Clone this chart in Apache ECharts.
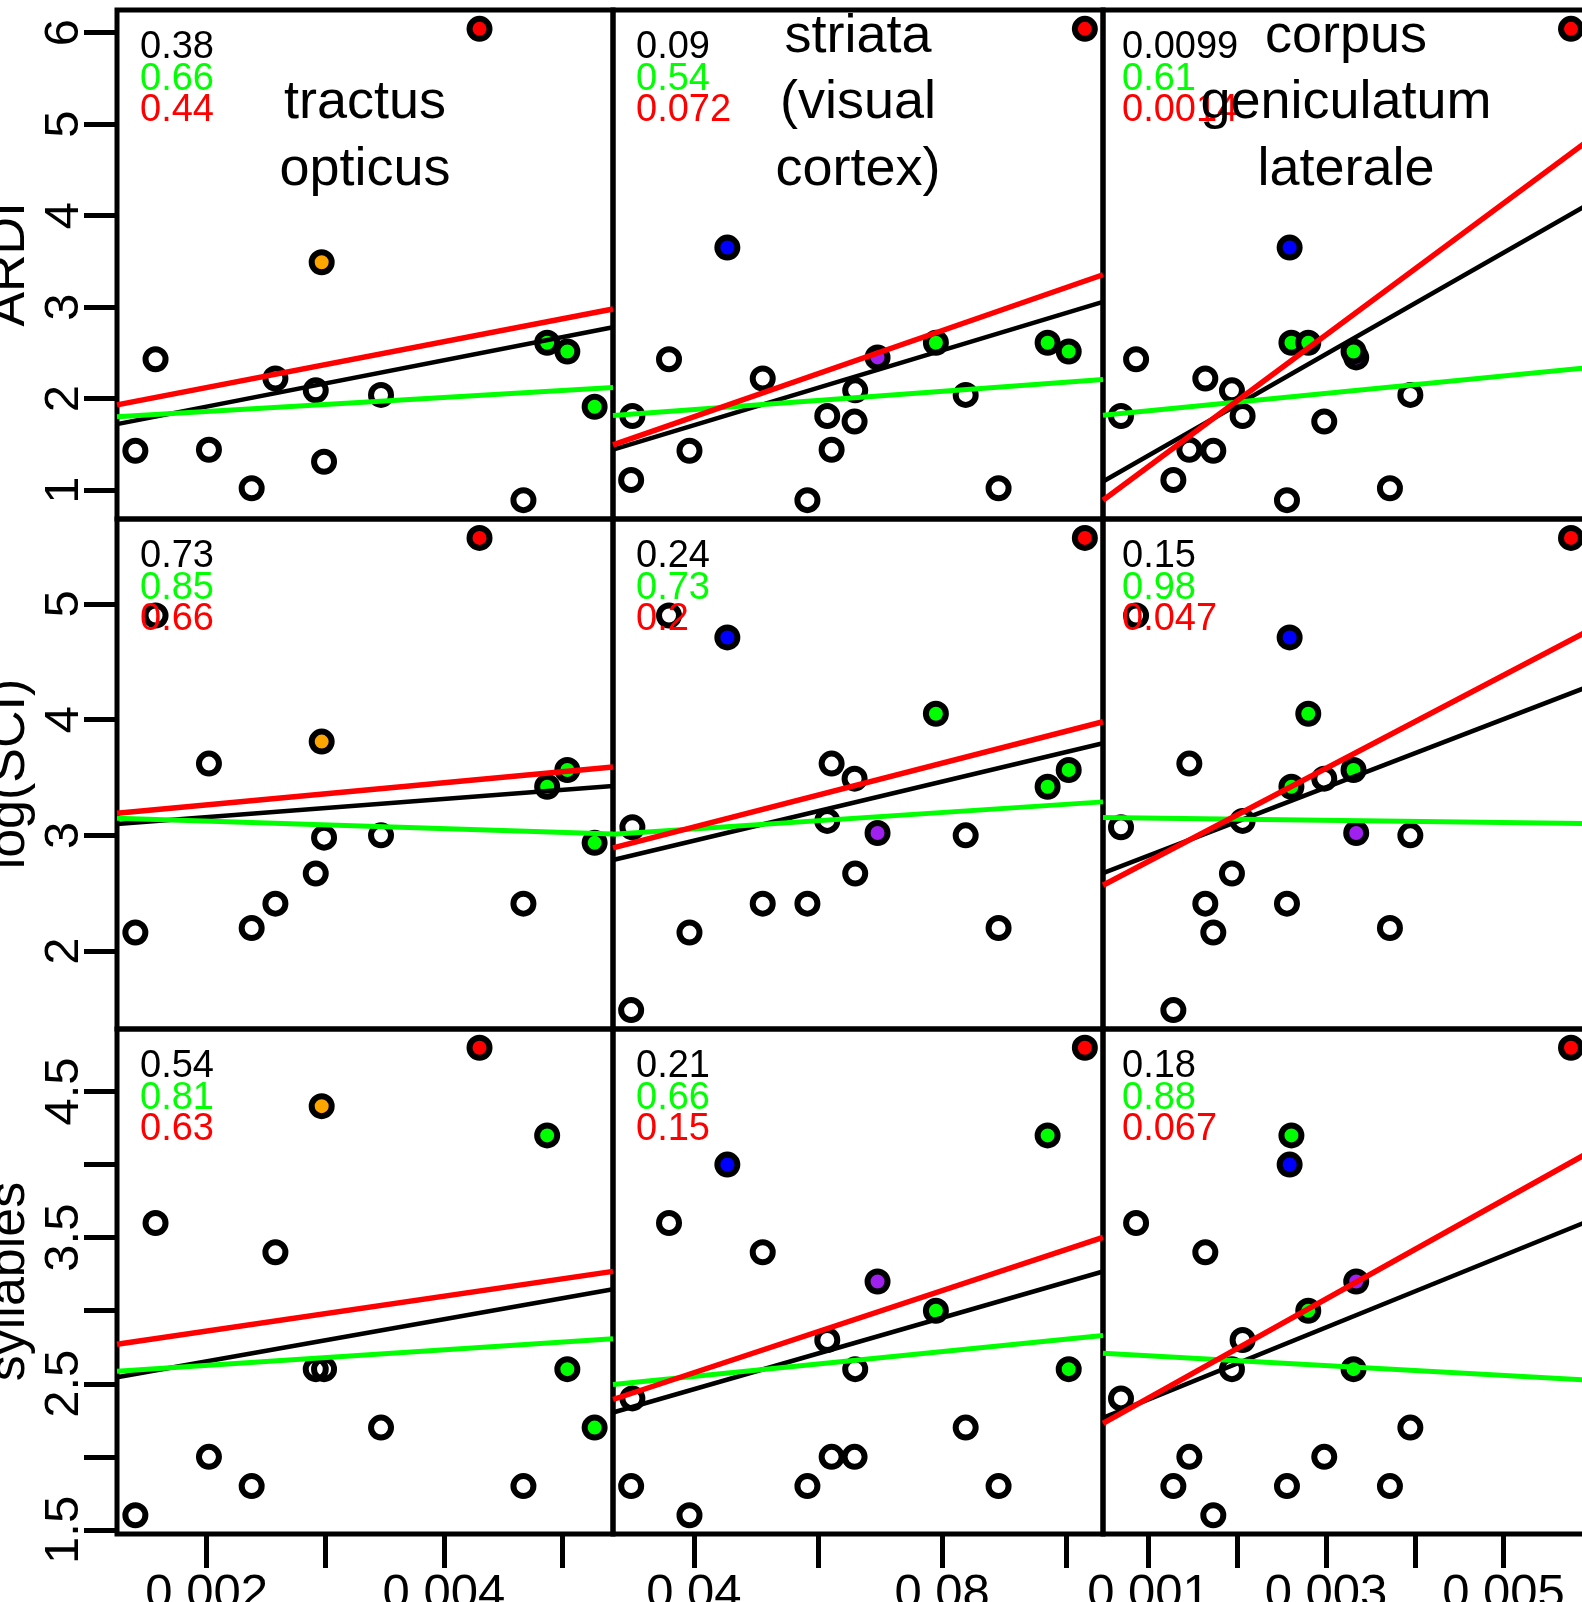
<!DOCTYPE html>
<html>
<head>
<meta charset="utf-8">
<script src="https://cdn.jsdelivr.net/npm/echarts@6/dist/echarts.min.js"></script>
<style>
  html, body { margin: 0; padding: 0; background: #fff; }
  #main { width: 1582px; height: 1602px; }
</style>
</head>
<body>
<div id="main"></div>
<script>
// one entry per species (same order in every array), null = not measured
const group     = ['red','orange','open','open','open','open','green','green','green','open','open','open','open','open','blue','purple','green','open','open','open','open'];
const tractus   = [0.00430,0.00297,0.00157,0.00258,0.00292,0.00347,0.00487,0.00504,0.00527,0.00140,0.00202,0.00299,0.00238,0.00467,null,null,null,null,null,null,null];
const striata   = [0.1030,null,0.0360,0.0511,0.0660,0.0838,0.0970,0.1004,null,0.0393,0.0622,null,0.0891,0.0583,0.0454,0.0696,0.0790,0.0659,0.0301,0.0299,0.0615];
const cgl       = [0.00576,null,0.00086,0.00164,0.00194,0.00395,0.00261,0.00331,null,0.00173,0.00146,null,0.00372,0.00256,0.00259,0.00334,0.00280,0.00298,0.00069,0.00128,0.00206];
const ardi      = [6.04,3.49,2.43,2.22,2.09,2.04,2.61,2.515,1.91,1.43,1.44,1.31,1.02,0.89,3.65,2.45,2.61,1.75,1.81,1.11,1.81];
const logSCI    = [5.57,3.81,4.90,2.41,2.67,3.00,3.42,3.565,2.935,2.16,3.62,2.98,2.20,2.41,4.71,3.02,4.05,3.49,3.07,1.49,3.125];
const syllables = [4.8,4.4,3.6,3.4,2.6,2.2,4.2,2.6,2.2,1.6,2.0,2.6,1.8,1.8,4.0,3.2,3.0,2.0,2.4,1.8,2.8];

const colTitles = [['tractus','opticus'], ['striata','(visual','cortex)'], ['corpus','geniculatum','laterale']];
const rowNames = ['ARDI', 'log(SCI)', 'syllables'];

// p values per row, per column: all species / green fit / red fit
const pAll   = [['0.38','0.09','0.0099'], ['0.73','0.24','0.15'], ['0.54','0.21','0.18']];
const pGreen = [['0.66','0.54','0.61'],   ['0.85','0.73','0.98'], ['0.81','0.66','0.88']];
const pRed   = [['0.44','0.072','0.0014'],['0.66','0.2','0.047'], ['0.63','0.15','0.067']];

// red fitted lines, two points
const redFit = [
  [[[0.00124,1.93],[0.00543,2.98]], [[0.0268,1.49],[0.1058,3.35]], [[0.00049,0.89],[0.00601,4.86]]],
  [[[0.00124,3.19],[0.00543,3.59]], [[0.0268,2.89],[0.1058,3.98]], [[0.00049,2.57],[0.00601,4.79]]],
  [[[0.00124,2.77],[0.00543,3.27]], [[0.0268,2.39],[0.1058,3.50]], [[0.00049,2.23],[0.00601,4.10]]]
];

const yTicks  = [[1,2,3,4,5,6], [2,3,4,5], [1.5,2,2.5,3,3.5,4,4.5]];
const yLabels = [[1,2,3,4,5,6], [2,3,4,5], [1.5,2.5,3.5,4.5]];
const xTicks  = [[0.002,0.003,0.004,0.005], [0.04,0.06,0.08,0.1], [0.001,0.002,0.003,0.004,0.005]];
const xLabels = [[0.002,0.004], [0.04,0.08], [0.001,0.003,0.005]];

// layout
const colX = [117, 613, 1103], colW = [496, 490, 486];
const rowY = [10, 519, 1029], rowH = [509, 510, 505];
const FONT = 'Liberation Sans, Arial, Helvetica, sans-serif';

const xs = [tractus, striata, cgl];
const ys = [ardi, logSCI, syllables];
const fill = { red:'#ff0000', orange:'#ffa500', blue:'#0000ff', purple:'#a020f0', green:'#00ff00', open:'rgba(0,0,0,0)' };
const rank = { open:0, purple:1, blue:2, orange:3, green:4, red:5 };

function padRange(v) {
  const a = v.filter(d => d != null);
  const lo = Math.min(...a), hi = Math.max(...a), d = (hi - lo) * 0.04;
  return [lo - d, hi + d];
}
function ols(x, y) {
  const n = x.length;
  const mx = x.reduce((s, v) => s + v, 0) / n, my = y.reduce((s, v) => s + v, 0) / n;
  let sxy = 0, sxx = 0;
  for (let i = 0; i < n; i++) { sxy += (x[i] - mx) * (y[i] - my); sxx += (x[i] - mx) ** 2; }
  const b = sxy / sxx;
  return v => my + b * (v - mx);
}

const grids = [], xAxes = [], yAxes = [], series = [], graphics = [];

for (let r = 0; r < 3; r++) {
  const yr = padRange(ys[r]);
  for (let c = 0; c < 3; c++) {
    const k = r * 3 + c;
    const xr = padRange(xs[c]);
    grids.push({ left: colX[c], top: rowY[r], width: colW[c], height: rowH[r], show: true,
      outerBoundsMode: 'none', containLabel: false,
      borderColor: '#000', borderWidth: 5, backgroundColor: 'transparent' });
    xAxes.push({ gridIndex: k, type: 'value', min: xr[0], max: xr[1],
      axisLine: { show: false }, splitLine: { show: false },
      axisTick: { show: r === 2, length: 34, lineStyle: { color: '#000', width: 5 }, customValues: xTicks[c] },
      axisLabel: { show: r === 2, customValues: xLabels[c], fontSize: 49, color: '#000', fontFamily: FONT, margin: 36 } });
    yAxes.push({ gridIndex: k, type: 'value', min: yr[0], max: yr[1],
      axisLine: { show: false }, splitLine: { show: false },
      axisTick: { show: c === 0, length: 33, lineStyle: { color: '#000', width: 5 }, customValues: yTicks[r] },
      axisLabel: { show: c === 0, customValues: yLabels[r], rotate: 90, fontSize: 49, color: '#000', fontFamily: FONT, margin: 28 } });

    // points
    const idx = [];
    for (let i = 0; i < group.length; i++) if (xs[c][i] != null) idx.push(i);
    idx.sort((a, b) => rank[group[a]] - rank[group[b]]);
    series.push({ type: 'scatter', xAxisIndex: k, yAxisIndex: k, silent: true, z: 2,
      symbol: 'circle', symbolSize: 20,
      itemStyle: { borderColor: '#000', borderWidth: 6, opacity: 1 },
      data: idx.map(i => ({ value: [xs[c][i], ys[r][i]], itemStyle: { color: fill[group[i]], opacity: 1 } })) });

    // fits
    const fAll = ols(idx.map(i => xs[c][i]), idx.map(i => ys[r][i]));
    const gi = idx.filter(i => group[i] !== 'red');
    const fGreen = ols(gi.map(i => xs[c][i]), gi.map(i => ys[r][i]));
    const rp = redFit[r][c];
    const rb = (rp[1][1] - rp[0][1]) / (rp[1][0] - rp[0][0]);
    const fRed = v => rp[0][1] + rb * (v - rp[0][0]);
    [[fAll, '#000000', 4.5, 3], [fGreen, '#00ff00', 5, 4], [fRed, '#ff0000', 5.5, 5]].forEach(([f, col, w, z]) => {
      series.push({ type: 'line', xAxisIndex: k, yAxisIndex: k, silent: true, z: z, clip: true,
        symbol: 'none', lineStyle: { color: col, width: w },
        data: [[xr[0], f(xr[0])], [xr[1], f(xr[1])]] });
    });

    // p values
    const px = colX[c] + (c === 2 ? 19 : 23);
    [[pAll, '#000'], [pGreen, '#00ff00'], [pRed, '#ff0000']].forEach(([p, col], j) => {
      graphics.push({ type: 'text', x: px, y: rowY[r] + 38 + j * 31.5, z: 100, silent: true,
        style: { text: p[r][c], fill: col, font: '38px ' + FONT, align: 'left', verticalAlign: 'middle',
          textAlign: 'left', textVerticalAlign: 'middle' } });
    });
  }
}

// column titles in the top row
colTitles.forEach((lines, c) => {
  const cx = colX[c] + colW[c] / 2;
  lines.forEach((t, j) => {
    const base = 185 - (lines.length - 1 - j) * 66.5;
    graphics.push({ type: 'text', x: cx, y: base - 15, z: 100, silent: true,
      style: { text: t, fill: '#000', font: '54px ' + FONT, align: 'center', verticalAlign: 'middle',
        textAlign: 'center', textVerticalAlign: 'middle' } });
  });
});

// row names, rotated
rowNames.forEach((t, r) => {
  graphics.push({ type: 'text', x: 36, y: rowY[r] + rowH[r] / 2, rotation: Math.PI / 2, z: 100, silent: true,
    style: { text: t, fill: '#000', font: '52px ' + FONT, align: 'center', verticalAlign: 'bottom',
      textAlign: 'center', textVerticalAlign: 'bottom' } });
});

const chart = echarts.init(document.getElementById('main'));
chart.setOption({
  animation: false,
  backgroundColor: '#fff',
  grid: grids,
  xAxis: xAxes,
  yAxis: yAxes,
  series: series,
  graphic: graphics
});
</script>
</body>
</html>
